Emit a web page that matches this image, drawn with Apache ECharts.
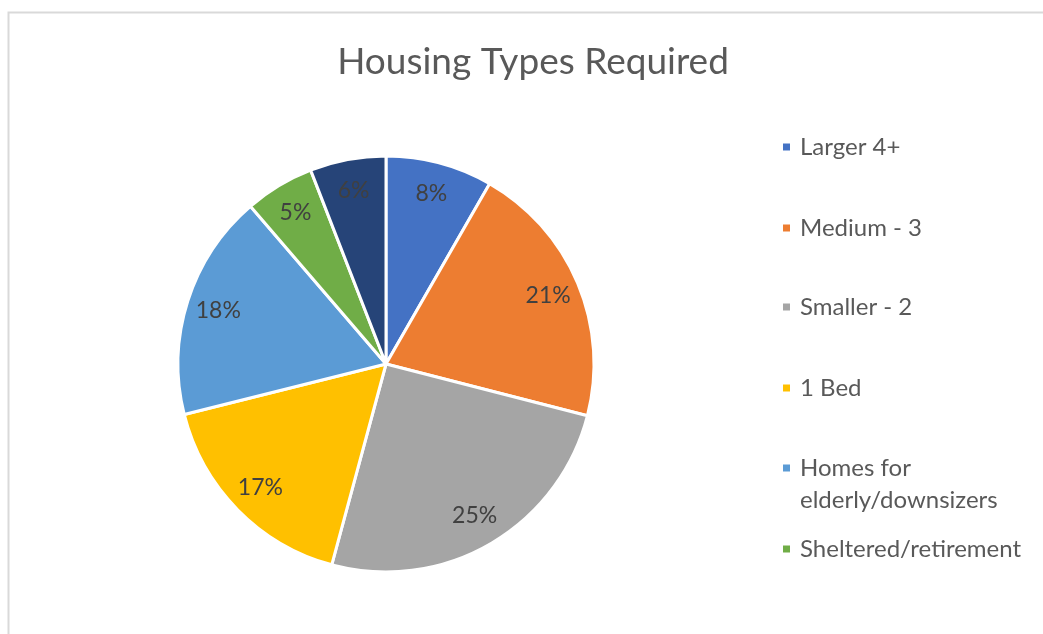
<!DOCTYPE html>
<html>
<head>
<meta charset="utf-8">
<script src="https://cdn.jsdelivr.net/npm/echarts@6/dist/echarts.min.js"></script>
<style>
  html, body { margin: 0; padding: 0; background: #fff; }
  #chart { width: 1043px; height: 634px; }
</style>
</head>
<body>
<div id="chart"></div>
<script>
const categories = ['Larger 4+', 'Medium - 3', 'Smaller - 2', '1 Bed', 'Homes for elderly/downsizers', 'Sheltered/retirement', 'Other']
const shares = [8.3, 20.7, 25.2, 16.9, 17.6, 5.4, 5.9]
const colors = ['#4472C4', '#ED7D31', '#A5A5A5', '#FFC000', '#5B9BD5', '#70AD47', '#264478']
// legend shows only the first six, like the original
const legendRows = [147, 228, 307, 388, 468, 549]

const myChart = echarts.init(document.getElementById('chart'))
const pieData = categories.map((name, i) => ({name: name, value: shares[i]}))

const legends = legendRows.map((y, i) => {
  const twoLine = categories[i] === 'Homes for elderly/downsizers'
  return {
    data: [categories[i]],
    left: 781,
    top: y - 16,
    padding: 0,
    itemWidth: 9,
    // square at the top of a tall box so it lines up with the first text line
    itemHeight: twoLine ? 41 : 9,
    icon: twoLine ? 'path://M0,0L9,0L9,9L0,9Z M0,41L0.01,41' : 'rect',
    selectedMode: false,
    formatter: name => twoLine ? 'Homes for\nelderly/downsizers' : name,
    textStyle: {fontFamily: 'Lato', fontSize: 24, color: '#595959', lineHeight: 32, padding: [0, 0, 0, 4]}
  }
})

let option = {
  animation: false,
  color: colors,
  title: {
    text: 'Housing Types Required',
    left: 533,
    top: 44,
    padding: 0,
    textAlign: 'center',
    textStyle: {fontFamily: 'Lato', fontSize: 37, fontWeight: 'normal', color: '#595959'}
  },
  legend: legends,
  graphic: [{
    type: 'rect',
    shape: {x: 8.5, y: 12.5, width: 1200, height: 800},
    style: {fill: 'none', stroke: '#d9d9d9', lineWidth: 2},
    silent: true
  }],
  series: [
    {
      type: 'pie',
      center: [386, 364],
      radius: [0, 208],
      startAngle: 90,
      clockwise: true,
      label: {show: false},
      labelLine: {show: false},
      itemStyle: {borderColor: '#fff', borderWidth: 3},
      emphasis: {disabled: true},
      data: pieData
    },
    {
      // label ring, so the percentages sit near the rim
      type: 'pie',
      center: [386, 364],
      radius: [138, 208],
      startAngle: 90,
      silent: true,
      legendHoverLink: false,
      itemStyle: {color: 'rgba(0,0,0,0)', borderWidth: 0},
      label: {
        show: true,
        position: 'inside',
        formatter: p => Math.round(p.percent) + '%',
        fontFamily: 'Lato',
        fontSize: 23,
        color: '#404040'
      },
      labelLine: {show: false},
      emphasis: {disabled: true},
      data: pieData
    }
  ]
}
myChart.setOption(option)
</script>
</body>
</html>
